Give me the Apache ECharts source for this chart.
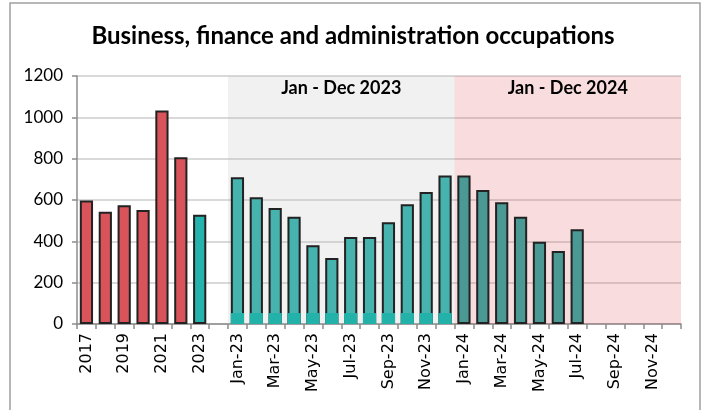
<!DOCTYPE html>
<html>
<head>
    <meta charset="utf-8">
    <title>ECharts</title>
    <script src="https://cdn.jsdelivr.net/npm/echarts@6/dist/echarts.min.js"></script>
    <style>
        html, body { margin: 0; padding: 0; background: #fff; }
    </style>
</head>
<body>
    <div id="main" style="width: 706px;height:410px;"></div>
    <script type="text/javascript">
        // 数据
        var years = ['2017', '2018', '2019', '2020', '2021', '2022', '2023'];
        var yearValues = [598, 543, 575, 552, 1033, 807, 529];
        var months23 = ['Jan-23', 'Feb-23', 'Mar-23', 'Apr-23', 'May-23', 'Jun-23',
                        'Jul-23', 'Aug-23', 'Sep-23', 'Oct-23', 'Nov-23', 'Dec-23'];
        var values23 = [710, 613, 561, 519, 381, 319, 421, 421, 492, 579, 639, 718];
        var base23 = [53, 53, 53, 53, 53, 53, 53, 53, 53, 53, 53, 53];
        var months24 = ['Jan-24', 'Feb-24', 'Mar-24', 'Apr-24', 'May-24', 'Jun-24',
                        'Jul-24', 'Aug-24', 'Sep-24', 'Oct-24', 'Nov-24', 'Dec-24'];
        var values24 = [718, 648, 589, 519, 398, 353, 458, null, null, null, null, null];
        var yTicks = [0, 200, 400, 600, 800, 1000, 1200];

        var categories = years.concat(['']).concat(months23).concat(months24);

        var mainData = [];
        yearValues.forEach(function (v, i) {
            mainData.push({ value: v, itemStyle: { color: i < 6 ? '#d9545a' : '#27b3ad' } });
        });
        mainData.push(null);
        values23.forEach(function (v) {
            mainData.push({ value: v, itemStyle: { color: '#47b3ae' } });
        });
        values24.forEach(function (v) {
            mainData.push(v == null ? null : { value: v, itemStyle: { color: '#4a9995' } });
        });

        var baseData = [null, null, null, null, null, null, null, null].concat(base23);

        var myChart = echarts.init(document.getElementById('main'));
        var option = {
            animation: false,
            backgroundColor: '#fff',
            graphic: [{
                type: 'rect',
                shape: { x: 10, y: 3, width: 690, height: 420 },
                style: { fill: 'none', stroke: '#a0a0a0', lineWidth: 1.5 },
                silent: true
            }],
            title: {
                text: 'Business, finance and administration occupations',
                left: 'center',
                top: 19,
                textStyle: { fontFamily: 'Lato', fontWeight: 'bold', fontSize: 24, color: '#000' }
            },
            grid: { left: 77, right: 25, top: 76, bottom: 86 },
            xAxis: {
                type: 'category',
                data: categories,
                boundaryGap: true,
                axisLine: { lineStyle: { color: '#8c8c8c', width: 1.5 } },
                axisTick: { show: true, interval: 0, length: 5, lineStyle: { color: '#8c8c8c', width: 1.5 } },
                axisLabel: {
                    interval: 1,
                    rotate: 90,
                    margin: 9,
                    color: '#000',
                    fontFamily: 'DejaVu Sans',
                    fontSize: 16
                }
            },
            yAxis: {
                type: 'value',
                min: yTicks[0],
                max: yTicks[yTicks.length - 1],
                interval: 200,
                axisLine: { show: true, lineStyle: { color: '#8c8c8c', width: 1.5 } },
                axisTick: { show: true, length: 5, lineStyle: { color: '#8c8c8c', width: 1.5 } },
                axisLabel: {
                    color: '#000', fontFamily: 'Lato', fontSize: 17, margin: 14,
                    formatter: function (v) { return String(v); }
                },
                splitLine: { lineStyle: { color: '#d9d9d9', width: 2 } }
            },
            series: [
                {
                    // 背景区域
                    type: 'bar',
                    data: [],
                    z: 1,
                    silent: true,
                    markArea: {
                        silent: true,
                        label: {
                            position: 'insideTop',
                            distance: 3,
                            color: '#000',
                            fontFamily: 'Lato',
                            fontWeight: 'bold',
                            fontSize: 18
                        },
                        data: [
                            [{ name: 'Jan - Dec 2023', xAxis: 'Jan-23', itemStyle: { color: 'rgba(190,190,190,0.22)' } },
                             { xAxis: 'Dec-23' }],
                            [{ name: 'Jan - Dec 2024', xAxis: 'Jan-24', itemStyle: { color: 'rgba(220,60,70,0.18)' } },
                             { xAxis: 'Dec-24' }]
                        ]
                    }
                },
                {
                    type: 'bar',
                    data: mainData,
                    z: 3,
                    barGap: '-100%',
                    barCategoryGap: '30%',
                    itemStyle: { borderColor: '#222', borderWidth: 2 }
                },
                {
                    type: 'bar',
                    data: baseData,
                    z: 4,
                    barGap: '-100%',
                    barCategoryGap: '30%',
                    itemStyle: { color: '#22b2a9', borderWidth: 0 }
                }
            ]
        };
        myChart.setOption(option);
    </script>
</body>
</html>
